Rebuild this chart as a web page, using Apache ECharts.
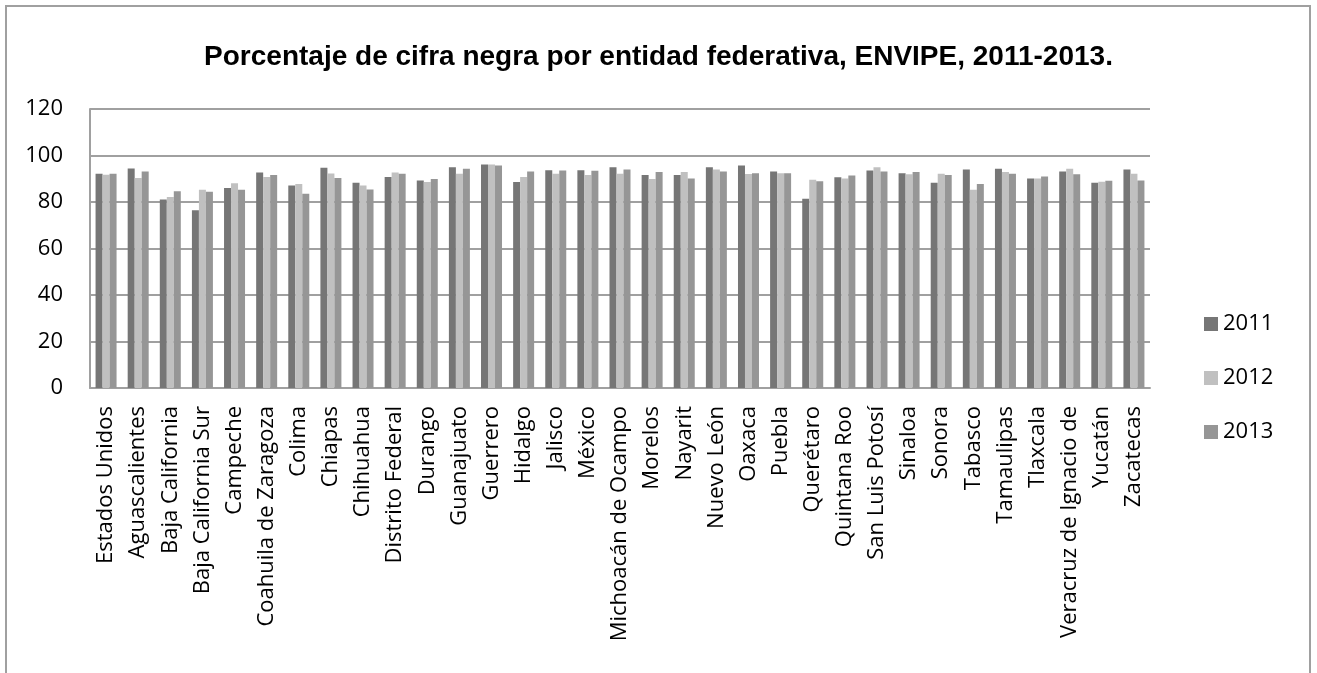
<!DOCTYPE html>
<html>
<head>
<meta charset="utf-8">
<script src="https://cdn.jsdelivr.net/npm/echarts@6/dist/echarts.min.js"></script>
<style>
  html, body { margin: 0; padding: 0; background: #fff; }
  #chart { width: 1317px; height: 673px; }
</style>
</head>
<body>
<div id="chart"></div>
<script>
var entidades = ['Estados Unidos', 'Aguascalientes', 'Baja California', 'Baja California Sur', 'Campeche',
    'Coahuila de Zaragoza', 'Colima', 'Chiapas', 'Chihuahua', 'Distrito Federal', 'Durango',
    'Guanajuato', 'Guerrero', 'Hidalgo', 'Jalisco', 'México', 'Michoacán de Ocampo', 'Morelos',
    'Nayarit', 'Nuevo León', 'Oaxaca', 'Puebla', 'Querétaro', 'Quintana Roo', 'San Luis Potosí',
    'Sinaloa', 'Sonora', 'Tabasco', 'Tamaulipas', 'Tlaxcala', 'Veracruz de Ignacio de', 'Yucatán',
    'Zacatecas'];

var datos2011 = [92.1, 94.4, 81.1, 76.4, 86.0, 92.7, 87.1, 94.7, 88.3, 90.7, 89.3,
    94.9, 96.1, 88.6, 93.7, 93.7, 94.9, 91.6, 91.6, 94.9, 95.7, 93.1, 81.4, 90.6, 93.5,
    92.4, 88.3, 94.0, 94.3, 90.1, 93.1, 88.3, 94.0];
var datos2012 = [91.7, 90.3, 82.1, 85.3, 88.1, 90.7, 87.7, 92.3, 87.1, 92.7, 88.6,
    92.1, 96.1, 90.7, 92.1, 91.6, 92.1, 89.9, 92.9, 94.0, 92.0, 92.4, 89.6, 90.1, 94.9,
    91.9, 92.1, 85.3, 92.9, 90.1, 94.3, 88.7, 92.1];
var datos2013 = [92.1, 93.1, 84.6, 84.4, 85.3, 91.6, 83.6, 90.3, 85.4, 92.1, 89.9,
    94.3, 95.7, 93.1, 93.6, 93.4, 94.0, 92.9, 90.1, 93.1, 92.4, 92.4, 88.9, 91.4, 93.1,
    92.9, 91.6, 87.7, 92.1, 91.0, 91.9, 89.1, 89.3];

var anios = ['2011', '2012', '2013'];
var colores = ['#767676', '#c0c0c0', '#969696'];

var chart = echarts.init(document.getElementById('chart'));

function serie(nombre, valores, color) {
    return {
        name: nombre,
        type: 'bar',
        data: valores,
        barWidth: 7,
        barGap: '0%',
        itemStyle: { color: color },
        animation: false
    };
}

var option = {
    backgroundColor: '#ffffff',
    animation: false,
    textStyle: { fontFamily: 'Open Sans' },
    title: {
        text: 'Porcentaje de cifra negra por entidad federativa, ENVIPE, 2011-2013.',
        left: 'center',
        top: 38,
        textStyle: {
            fontFamily: 'Liberation Sans',
            fontWeight: 'bold',
            fontSize: 28,
            color: '#000'
        }
    },
    graphic: [{
        type: 'rect',
        shape: { x: 6, y: 6, width: 1304, height: 700 },
        style: { fill: 'none', stroke: '#a0a0a0', lineWidth: 2 },
        silent: true
    }],
    legend: {
        orient: 'vertical',
        left: 1199,
        top: 307,
        itemWidth: 14,
        itemHeight: 14,
        itemGap: 30,
        icon: 'rect',
        data: anios,
        textStyle: { fontSize: 22, color: '#000', lineHeight: 24, fontFamily: 'Open Sans' }
    },
    grid: { left: 90, right: 167, top: 109, bottom: 285 },
    xAxis: {
        type: 'category',
        data: entidades,
        axisLine: { lineStyle: { color: '#a0a0a0', width: 2 } },
        axisTick: { show: false },
        axisLabel: {
            rotate: 90,
            interval: 0,
            margin: 18,
            fontSize: 22,
            color: '#000',
            fontFamily: 'Open Sans'
        }
    },
    yAxis: {
        type: 'value',
        min: 0,
        max: 120,
        interval: 20,
        axisLine: { show: true, lineStyle: { color: '#a0a0a0', width: 2 } },
        axisTick: { show: false },
        axisLabel: { fontSize: 22, color: '#000', margin: 27, fontFamily: 'Open Sans' },
        splitLine: { lineStyle: { color: '#a0a0a0', width: 2 } }
    },
    series: [
        serie(anios[0], datos2011, colores[0]),
        serie(anios[1], datos2012, colores[1]),
        serie(anios[2], datos2013, colores[2])
    ]
};

chart.setOption(option);
</script>
</body>
</html>
